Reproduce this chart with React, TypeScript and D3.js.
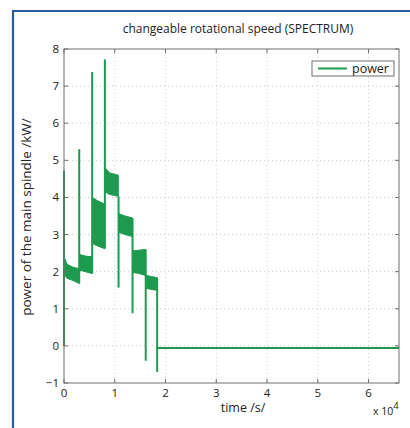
import { useEffect, useRef } from 'react'
import * as d3 from 'd3'

// time in units of 10^4 s, power in kW
const xTicks = [0, 1, 2, 3, 4, 5, 6]
const yTicks = [-1, 0, 1, 2, 3, 4, 5, 6, 7, 8]

// dense oscillation bands: [time, upper, lower]
const band1 = [[0.02, 2.34, 1.9], [0.06, 2.2, 1.82], [0.18, 2.12, 1.76], [0.3, 2.08, 1.68]]
const band2 = [[0.31, 2.46, 2.04], [0.42, 2.42, 2.0], [0.55, 2.4, 1.95]]
const band3 = [[0.56, 4.0, 2.76], [0.65, 3.92, 2.7], [0.8, 3.82, 2.62]]
const band4 = [[0.81, 4.8, 4.15], [0.9, 4.66, 4.08], [1.07, 4.6, 4.03]]
const band5 = [[1.08, 3.56, 3.06], [1.2, 3.5, 3.0], [1.34, 3.45, 2.95]]
const band6 = [[1.36, 2.56, 1.98], [1.48, 2.58, 1.95], [1.6, 2.6, 1.9]]
const band7 = [[1.62, 1.9, 1.55], [1.72, 1.87, 1.52], [1.83, 1.84, 1.5]]
const bands = [band1, band2, band3, band4, band5, band6, band7]

// vertical transients: [time, from, to]
const spikes = [
  [0.0, 0, 4.72],
  [0.3, 1.68, 5.3],
  [0.555, 1.95, 7.38],
  [0.805, 2.62, 7.72],
  [1.075, 4.03, 1.57],
  [1.35, 3.45, 0.88],
  [1.61, 2.6, -0.4],
  [1.835, 1.84, -0.7],
]
// idle level after the machining
const idle = [[1.84, -0.06], [6.6, -0.06]]

const W = 410
const H = 428
const M = { left: 64, top: 49, right: 399, bottom: 383 }
const GREEN = '#1e9a4f'
const FONT = '"Open Sans", "DejaVu Sans", sans-serif'

export default function App() {
  const ref = useRef<SVGSVGElement | null>(null)

  useEffect(() => {
    document.documentElement.style.overflow = 'hidden'
    document.body.style.overflow = 'hidden'

    const svg = d3.select(ref.current)
    svg.selectAll('*').remove()

    const x = d3.scaleLinear().domain([0, 6.6]).range([M.left, M.right])
    const y = d3.scaleLinear().domain([-1, 8]).range([M.bottom, M.top])

    // frame (only top and left edges fall inside the picture)
    svg.append('path')
      .attr('d', `M${W + 5},11 H13 V${H + 5}`)
      .attr('fill', 'none').attr('stroke', '#2b5c9e').attr('stroke-width', 2.2)

    // grid
    const grid = svg.append('g').attr('stroke', '#bdbdbd').attr('stroke-width', 0.8)
      .attr('stroke-dasharray', '1,3')
    grid.selectAll('.gx').data(xTicks.slice(1)).join('line')
      .attr('x1', (d) => x(d)).attr('x2', (d) => x(d))
      .attr('y1', M.top).attr('y2', M.bottom)
    grid.selectAll('.gy').data(yTicks.slice(1, -1)).join('line')
      .attr('x1', M.left).attr('x2', M.right)
      .attr('y1', (d) => y(d)).attr('y2', (d) => y(d))

    // data
    const area = d3.area<number[]>()
      .x((d) => x(d[0])).y0((d) => y(d[2])).y1((d) => y(d[1]))
    svg.append('g').selectAll('path').data(bands).join('path')
      .attr('d', (d) => area(d))
      .attr('fill', GREEN).attr('stroke', GREEN).attr('stroke-width', 1)

    svg.append('g').selectAll('line').data(spikes).join('line')
      .attr('x1', (d) => x(d[0])).attr('x2', (d) => x(d[0]))
      .attr('y1', (d) => y(d[1])).attr('y2', (d) => y(d[2]))
      .attr('stroke', GREEN).attr('stroke-width', 2)

    svg.append('path')
      .attr('d', d3.line<number[]>().x((d) => x(d[0])).y((d) => y(d[1]))(idle))
      .attr('fill', 'none').attr('stroke', GREEN).attr('stroke-width', 2)

    // axes box
    svg.append('rect')
      .attr('x', M.left).attr('y', M.top)
      .attr('width', M.right - M.left).attr('height', M.bottom - M.top)
      .attr('fill', 'none').attr('stroke', '#6e6e6e').attr('stroke-width', 1)

    const tk = svg.append('g').attr('stroke', '#6e6e6e').attr('stroke-width', 1)
    xTicks.forEach((t) => {
      tk.append('line').attr('x1', x(t)).attr('x2', x(t)).attr('y1', M.bottom).attr('y2', M.bottom - 4)
      tk.append('line').attr('x1', x(t)).attr('x2', x(t)).attr('y1', M.top).attr('y2', M.top + 4)
    })
    yTicks.forEach((t) => {
      tk.append('line').attr('x1', M.left).attr('x2', M.left + 4).attr('y1', y(t)).attr('y2', y(t))
      tk.append('line').attr('x1', M.right).attr('x2', M.right - 4).attr('y1', y(t)).attr('y2', y(t))
    })

    const txt = svg.append('g').attr('font-family', FONT).attr('fill', '#222')
    txt.selectAll('.xl').data(xTicks).join('text')
      .attr('x', (d) => x(d)).attr('y', M.bottom + 14)
      .attr('text-anchor', 'middle').attr('font-size', 11.5)
      .text((d) => d)
    txt.selectAll('.yl').data(yTicks).join('text')
      .attr('x', M.left - 5).attr('y', (d) => y(d) + 4)
      .attr('text-anchor', 'end').attr('font-size', 11.5)
      .text((d) => (d < 0 ? `\u2212${-d}` : d))

    txt.append('text')
      .attr('x', 238).attr('y', 33).attr('text-anchor', 'middle').attr('font-size', 12)
      .text('changeable rotational speed (SPECTRUM)')
    txt.append('text')
      .attr('x', 243).attr('y', 412).attr('text-anchor', 'middle').attr('font-size', 12.5)
      .text('time /s/')
    txt.append('text')
      .attr('transform', `translate(31,${217}) rotate(-90)`)
      .attr('text-anchor', 'middle').attr('font-size', 13.5)
      .text('power of the main spindle /kW/')
    const exp = txt.append('text').attr('x', 373).attr('y', 415).attr('font-size', 10.5)
    exp.append('tspan').text('x 10')
    exp.append('tspan').attr('dy', -6).attr('font-size', 9.5).text('4')

    // legend
    const lg = svg.append('g')
    lg.append('rect').attr('x', 312).attr('y', 61).attr('width', 82).attr('height', 15)
      .attr('fill', 'white').attr('stroke', '#6e6e6e').attr('stroke-width', 1)
    lg.append('line').attr('x1', 318).attr('x2', 347).attr('y1', 68.5).attr('y2', 68.5)
      .attr('stroke', GREEN).attr('stroke-width', 2)
    lg.append('text').attr('x', 352).attr('y', 73).attr('font-family', FONT)
      .attr('font-size', 12.5).attr('fill', '#222').text('power')

    // keep the strip right of the axes clean
    svg.append('rect').attr('x', 400.5).attr('y', 13).attr('width', 12).attr('height', H)
      .attr('fill', 'white')
  }, [])

  return (
    <div style={{ position: 'fixed', left: 0, top: 0, width: W, height: H, background: 'white', overflow: 'hidden' }}>
      <svg ref={ref} width={W} height={H} style={{ display: 'block' }} />
    </div>
  )
}
